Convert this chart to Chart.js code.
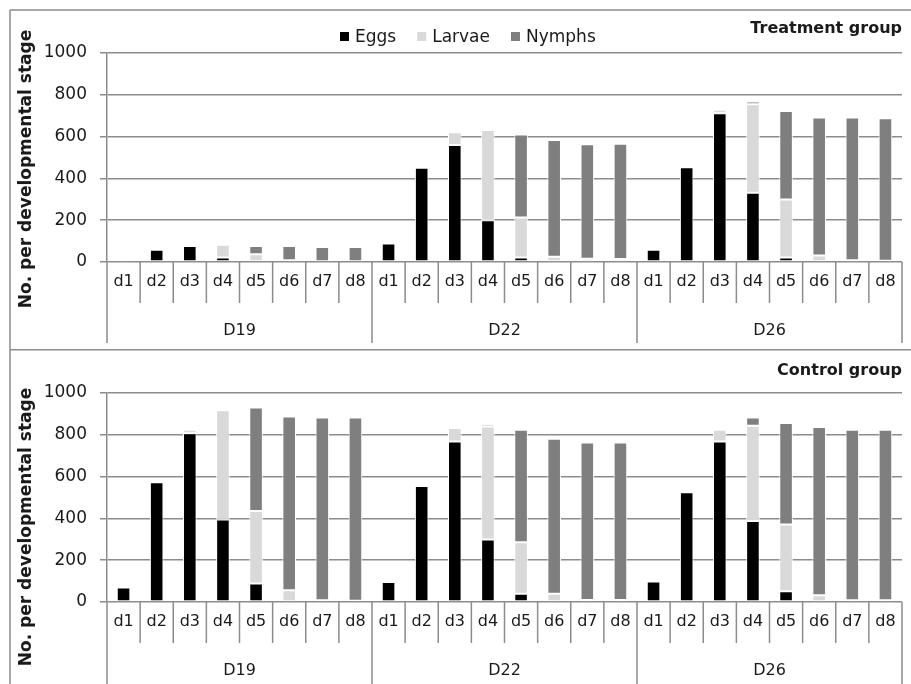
<!DOCTYPE html>
<html><head><meta charset="utf-8">
<script src="https://cdn.jsdelivr.net/npm/chart.js@4.4.0/dist/chart.umd.min.js"></script>
<style>
html,body{margin:0;padding:0;background:#fff;}
#wrap{position:relative;width:911px;height:684px;overflow:hidden;background:#fff;}
.panel{position:absolute;left:0;width:911px;}
</style></head><body>
<div id="wrap">
<div class="panel" style="top:0;height:349px"><canvas id="c1"></canvas></div>
<div class="panel" style="top:349px;height:335px"><canvas id="c2"></canvas></div>
</div>
<script>
// ---- data ----
const days = ['d1','d2','d3','d4','d5','d6','d7','d8'];
const groups = ['D19','D22','D26'];
const seriesNames = ['Eggs','Larvae','Nymphs'];
const yTicks = [0,200,400,600,800,1000];

const eggsTreat   = [6,59,77,21,3,0,0,0,   88,451,560,200,21,3,0,0,   59,453,712,331,21,3,0,0];
const larvaeTreat = [0,0,0,62,34,8,4,4,    0,0,61,432,192,22,16,14,   0,0,16,424,278,28,8,6];
const nymphsTreat = [0,0,0,0,40,69,68,68,  0,0,0,0,397,559,547,552,   0,0,0,13,424,660,683,682];

const eggsCtrl    = [69,573,808,395,88,3,0,0,   96,555,768,299,40,3,0,0,   98,525,768,387,51,3,0,0];
const larvaeCtrl  = [0,0,16,522,347,53,8,6,     0,0,64,541,246,37,10,10,   0,0,56,456,320,29,8,8];
const nymphsCtrl  = [0,0,0,0,496,832,875,877,   0,0,0,11,538,741,753,753,  0,0,0,40,485,805,816,816];

// ---- styling ----
const COLORS = ['#000000','#d9d9d9','#7f7f7f'];
const GRID = '#8c8c8c';
const TEXT = '#1a1a1a';
const FONT = '"DejaVu Sans", sans-serif';

const labels = groups.flatMap(g => days.map(d => g + ' ' + d));

function makeDatasets(e,l,n){
  return [e,l,n].map((arr,i)=>({
    label: seriesNames[i], data: arr, backgroundColor: COLORS[i],
    borderColor:'#ffffff', borderWidth:1, borderSkipped:false,
    barPercentage:0.41, categoryPercentage:1.0
  }));
}

function decoPlugin(o){
  return {
    id:'deco',
    afterDraw(chart){
      const ctx = chart.ctx, xs = chart.scales.x, ca = chart.chartArea;
      const n = chart.data.labels.length;
      const step = xs.getPixelForValue(1) - xs.getPixelForValue(0);
      const bx = i => xs.getPixelForValue(0) - step/2 + i*step;
      ctx.save();
      ctx.strokeStyle = GRID; ctx.lineWidth = 1.5;
      ctx.beginPath();
      for(let i=0;i<=n;i++){ ctx.moveTo(bx(i), ca.bottom); ctx.lineTo(bx(i), ca.bottom+41); }
      for(let g=0; g<=groups.length; g++){ const x=bx(g*days.length); ctx.moveTo(x, ca.bottom); ctx.lineTo(x, o.groupBottom); }
      // frame
      o.frame.forEach(s=>{ ctx.moveTo(s[0],s[1]); ctx.lineTo(s[2],s[3]); });
      ctx.stroke();
      // group labels
      ctx.fillStyle = TEXT; ctx.font = '16px ' + FONT; ctx.textAlign='center'; ctx.textBaseline='middle';
      groups.forEach((g,k)=>{
        const x = (xs.getPixelForValue(k*days.length) + xs.getPixelForValue(k*days.length + days.length-1))/2;
        ctx.fillText(g, x, o.groupLabelY);
      });
      // panel title
      ctx.font = 'bold 16px ' + FONT; ctx.textAlign='right'; ctx.textBaseline='alphabetic';
      ctx.fillText(o.title, ca.right, o.titleY);
      // y-axis title
      ctx.save();
      ctx.translate(27, o.yTitleY); ctx.rotate(-Math.PI/2);
      ctx.font = 'bold 17px ' + FONT; ctx.textAlign='center'; ctx.textBaseline='middle';
      ctx.fillText('No. per developmental stage', 0, 0);
      ctx.restore();
      // legend
      if(o.legend){
        ctx.font = '17px ' + FONT; ctx.textAlign='left'; ctx.textBaseline='alphabetic';
        let x = 340;
        chart.data.datasets.forEach(ds=>{
          ctx.fillStyle = ds.backgroundColor; ctx.fillRect(x, 32, 9, 9);
          ctx.fillStyle = TEXT; ctx.fillText(ds.label, x+15, 42);
          x += 15 + ctx.measureText(ds.label).width + 21;
        });
      }
      ctx.restore();
    }
  };
}

function makeChart(id, ds, o){
  return new Chart(document.getElementById(id), {
    type:'bar',
    data:{ labels, datasets: ds },
    options:{
      responsive:true, maintainAspectRatio:false, animation:false,
      layout:{ padding:{ top:o.padTop, left:0, right:9, bottom:0 } },
      plugins:{ legend:{display:false}, tooltip:{enabled:false}, title:{display:false} },
      scales:{
        x:{
          stacked:true,
          grid:{display:false, drawTicks:false},
          border:{display:false},
          ticks:{ autoSkip:false, maxRotation:0, minRotation:0, padding:10, color:TEXT,
                  font:{family:FONT, size:16},
                  callback:(v,i)=>days[i % days.length] },
          afterFit:(s)=>{ s.height = o.xHeight; }
        },
        y:{
          stacked:true, min:0, max:1000,
          afterBuildTicks:(s)=>{ s.ticks = yTicks.map(v=>({value:v})); },
          grid:{ color:GRID, lineWidth:1.5, tickLength:7, drawTicks:true },
          border:{ display:true, color:GRID, width:1.5 },
          ticks:{ color:TEXT, padding:13, font:{family:FONT, size:17}, callback:(v)=>String(v) },
          afterFit:(s)=>{ s.width = 107; }
        }
      }
    },
    plugins:[decoPlugin(o)]
  });
}

makeChart('c1', makeDatasets(eggsTreat, larvaeTreat, nymphsTreat), {
  padTop:53, xHeight:87, groupBottom:343, groupLabelY:331, title:'Treatment group', titleY:33,
  yTitleY:169, legend:true,
  frame:[[10,10,911,10],[10,10,10,349]]
});
makeChart('c2', makeDatasets(eggsCtrl, larvaeCtrl, nymphsCtrl), {
  padTop:44, xHeight:82, groupBottom:335, groupLabelY:322, title:'Control group', titleY:26,
  yTitleY:178, legend:false,
  frame:[[10,0.75,911,0.75],[10,0,10,335]]
});
</script>
</body></html>
